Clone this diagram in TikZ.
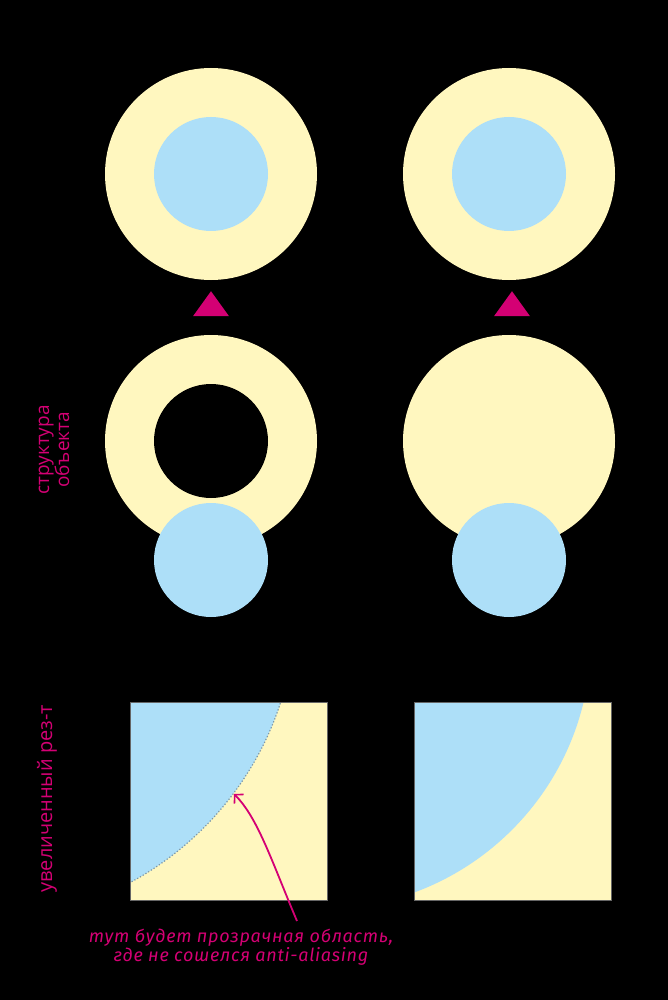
\documentclass[tikz,border=0pt]{standalone}
\usepackage{fontspec}
\setmainfont{Open Sans}
\newfontfamily\labelfont{Open Sans}
\newfontfamily\notefont[LetterSpace=4]{Fira Sans}
\usetikzlibrary{arrows.meta,shapes.geometric}
\definecolor{cream}{RGB}{255,247,191}
\definecolor{sky}{RGB}{173,223,248}
\definecolor{rose}{RGB}{212,0,116}
\definecolor{edgegray}{RGB}{125,150,165}
\tikzset{
  disk/.style={circle, inner sep=0pt, minimum size=#1},
  outerdisk/.style={disk=212pt, fill=cream},
  innerdisk/.style={disk=114pt, fill=sky},
  holedisk/.style={disk=114pt, fill=black},
  marker/.style={isosceles triangle, isosceles triangle apex angle=70, isosceles triangle stretches, shape border rotate=90, fill=rose, inner sep=0pt, minimum height=25pt, minimum width=36pt},
  sidelabel/.style={rotate=90, text=rose, align=center, font=\labelfont\fontsize{19}{18}\selectfont},
  zoombox/.style={draw=black!60, line width=0.8pt},
}
\begin{document}
\begin{tikzpicture}[x=1pt,y=-1pt]
\useasboundingbox (0,0) rectangle (668,1000);
\fill[black] (0,0) rectangle (668,1000);
% top row
\node[outerdisk] (tlo) at (211,174) {};
\node[innerdisk] (tli) at (211,174) {};
\node[outerdisk] (tro) at (509,174) {};
\node[innerdisk] (tri) at (509,174) {};
% markers
\node[marker] (ml) at (211,307) {};
\node[marker] (mr) at (512,307) {};
% middle row
\node[outerdisk] (mlo) at (211,441) {};
\node[holedisk] (mlh) at (211,441) {};
\node[innerdisk] (mlb) at (211,560) {};
\node[outerdisk] (mro) at (509,441) {};
\node[innerdisk] (mrb) at (509,560) {};
% labels
\node[sidelabel] (lab1) at (54,450) {структура\\объекта};
\node[sidelabel, font=\labelfont\fontsize{20}{18}\selectfont] (lab2) at (47,799) {увеличенный рез-т};
% zoom boxes
\begin{scope}
\clip (130,702) rectangle (327,900);
\fill[cream] (130,702) rectangle (327,900);
\fill[sky] (-19,605) circle (315pt);
\draw[edgegray, line width=1.2pt, dotted] (-19,605) circle (315pt);
\end{scope}
\node[zoombox, minimum width=197pt, minimum height=198pt, inner sep=0pt] (zl) at (228.5,801) {};
\begin{scope}
\clip (414,702) rectangle (611,900);
\fill[cream] (414,702) rectangle (611,900);
\fill[sky] (321,639) circle (270pt);
\end{scope}
\node[zoombox, minimum width=197pt, minimum height=198pt, inner sep=0pt] (zr) at (512.5,801) {};
% note and arrow
\node[text=rose, align=center, font=\notefont\itshape\fontsize{18}{16.5}\selectfont] (note) at (241,947) {тут будет прозрачная область,\\где не сошелся anti-aliasing};
\coordinate (tip) at (234,794);
\coordinate (tail) at (297,921);
\draw[rose, line width=1.8pt, -{Straight Barb[length=6pt,width=13pt,line width=1.6pt]}] (tail) .. controls (272,862) and (258,818) .. (tip);
\end{tikzpicture}
\end{document}
